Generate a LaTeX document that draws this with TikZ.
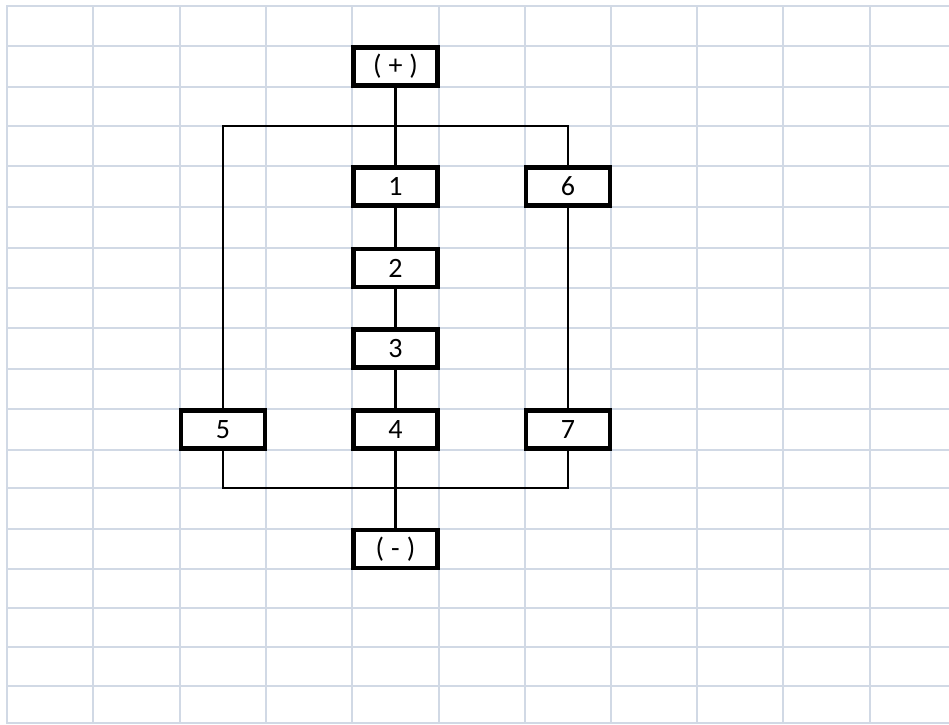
\documentclass[tikz,border=0pt]{standalone}
\usepackage{fontspec}
\setmainfont{Carlito}
\definecolor{gridc}{HTML}{D1D9E5}
\newcommand\myboxfont{\fontsize{28pt}{32pt}\selectfont\spaceskip 7pt\relax}
\tikzset{
  cellbox/.style={draw=black, line width=4.2pt, fill=white, minimum width=84pt, minimum height=38pt, inner sep=0pt, font=\myboxfont},
  wire/.style={draw=black, line width=2.2pt},
  gridline/.style={draw=gridc, line width=2pt}
}
\begin{document}
\begin{tikzpicture}[x=1pt,y=-1pt]
\useasboundingbox (0,0) rectangle (949,724);
\fill[white] (0,0) rectangle (949,724);
% grid
\foreach \y in {6,46,87,126,166,207,248,288,328,369,409,450,488,529,569,608,647,686,723}
  \draw[gridline] (6,\y) -- (949,\y);
\foreach \x in {7,93,180,266,352,439,525,611,697,783,870}
  \draw[gridline] (\x,6) -- (\x,724);
% coordinates for buses
\coordinate (tl) at (223,126);
\coordinate (tr) at (568,126);
\coordinate (bl) at (223,488);
\coordinate (br) at (568,488);
% nodes
\node[cellbox] (plus) at (395.5,66.5) {( + )};
\node[cellbox] (n1) at (395.5,186.5) {1};
\node[cellbox] (n2) at (395.5,268) {2};
\node[cellbox] (n3) at (395.5,348.5) {3};
\node[cellbox] (n4) at (395.5,429.5) {4};
\node[cellbox] (n5) at (223,429.5) {5};
\node[cellbox] (n6) at (568,186.5) {6};
\node[cellbox] (n7) at (568,429.5) {7};
\node[cellbox] (minus) at (395.5,549) {( - )};
% connectors
\draw[wire] (plus.south) -- (n1.north);
\draw[wire] (n1.south) -- (n2.north);
\draw[wire] (n2.south) -- (n3.north);
\draw[wire] (n3.south) -- (n4.north);
\draw[wire] (n4.south) -- (minus.north);
\draw[wire] (n5.north) -- (tl) -- (tr) -- (n6.north);
\draw[wire] (n6.south) -- (n7.north);
\draw[wire] (n5.south) -- (bl) -- (br) -- (n7.south);
\end{tikzpicture}
\end{document}
